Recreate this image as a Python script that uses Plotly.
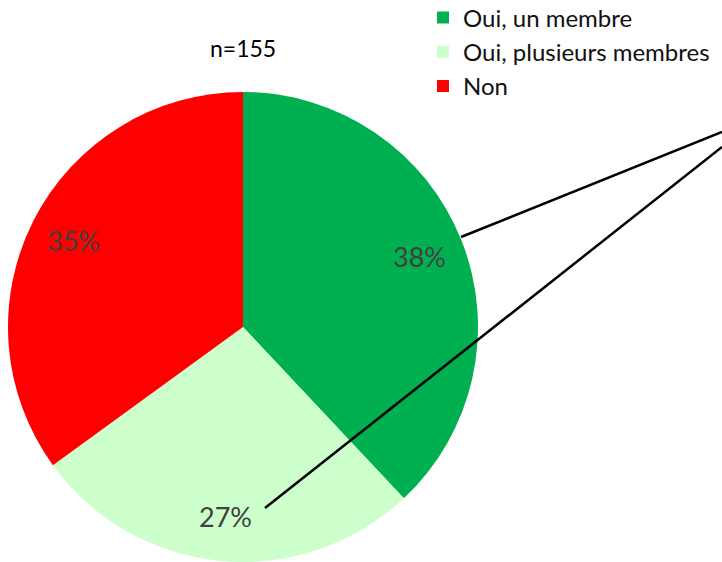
import math
import plotly.graph_objects as go

W, H = 722, 562
labels = ["Oui, un membre", "Oui, plusieurs membres", "Non"]
values = [38, 27, 35]
colors = ["#00B050", "#CCFFCC", "#FF0000"]
title_text = "n=155"

FONT = "Lato, Open Sans, sans-serif"

# pie geometry (pixels)
cx, cy, r = 243, 327, 235
dom_x = [(cx - r) / W, (cx + r) / W]
dom_y = [max(0.0, 1 - (cy + r) / H), 1 - (cy - r) / H]

fig = go.Figure(go.Pie(
    labels=labels, values=values, sort=False, direction="clockwise", rotation=0,
    marker=dict(colors=colors, line=dict(width=0)),
    textinfo="none", hoverinfo="label+percent",
    domain=dict(x=dom_x, y=dom_y),
))

# percentage labels placed along each slice bisector
total = sum(values)
cum = 0
ann = []
for v in values:
    mid = (cum + v / 2) / total * 2 * math.pi
    cum += v
    px = cx + 0.81 * r * math.sin(mid)
    py = cy - 0.81 * r * math.cos(mid)
    ann.append(dict(x=px / W, y=1 - py / H, xref="paper", yref="paper",
                    xanchor="center", yanchor="middle",
                    text=f"{round(v / total * 100)}%", showarrow=False,
                    font=dict(family=FONT, size=27, color="#404040")))

ann.append(dict(x=cx / W, y=1 - 48 / H, xref="paper", yref="paper", text=title_text,
                xanchor="center", yanchor="middle",
                showarrow=False, font=dict(family=FONT, size=23, color="#000000")))

# leader lines toward the (cropped) secondary chart
leaders = [((461, 237), (722, 132)), ((265, 508), (722, 147))]
shapes = []
for (x0, y0), (x1, y1) in leaders:
    shapes.append(dict(type="line", xref="paper", yref="paper",
                       x0=x0 / W, y0=1 - y0 / H, x1=x1 / W, y1=1 - y1 / H,
                       line=dict(color="#000000", width=2.5)))

fig.update_layout(
    width=W, height=H, margin=dict(l=0, r=0, t=0, b=0, autoexpand=False),
    paper_bgcolor="white", plot_bgcolor="white",
    showlegend=True,
    legend=dict(x=423 / W, y=1.008, xanchor="left", yanchor="top",
                font=dict(family=FONT, size=24, color="#111111"),
                bgcolor="rgba(0,0,0,0)", traceorder="normal", tracegroupgap=0,
                itemwidth=30),
    annotations=ann, shapes=shapes,
)
fig.write_html("out.html", config={"displayModeBar": False},
               post_script="document.body.style.margin='0';document.body.style.overflow='hidden';")
